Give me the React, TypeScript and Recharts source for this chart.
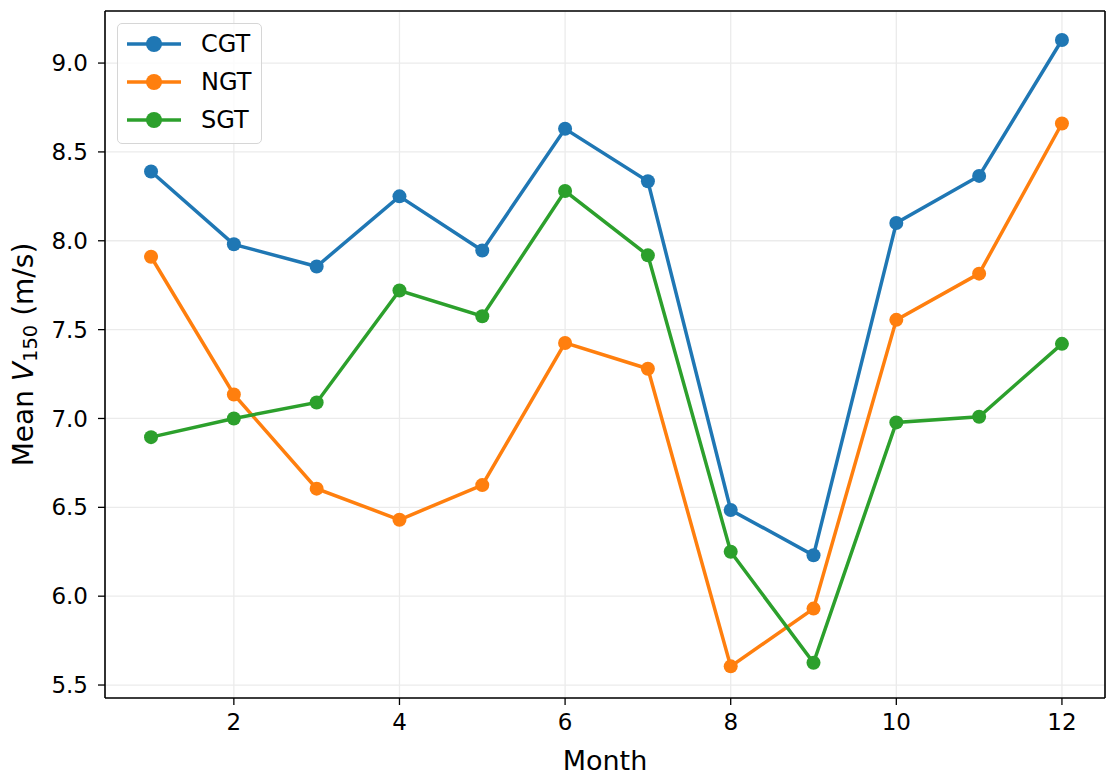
import React from 'react';
import { LineChart, Line, XAxis, YAxis, CartesianGrid, ReferenceLine } from 'recharts';

const months = [1, 2, 3, 4, 5, 6, 7, 8, 9, 10, 11, 12];
const cgt = [8.39, 7.98, 7.855, 8.25, 7.945, 8.63, 8.335, 6.485, 6.23, 8.1, 8.365, 9.13];
const ngt = [7.91, 7.135, 6.605, 6.43, 6.625, 7.425, 7.28, 5.605, 5.93, 7.555, 7.815, 8.66];
const sgt = [6.895, 7.0, 7.09, 7.72, 7.575, 8.28, 7.918, 6.25, 5.625, 6.978, 7.01, 7.42];
const xTicks = [2, 4, 6, 8, 10, 12];
const yTicks = [5.5, 6.0, 6.5, 7.0, 7.5, 8.0, 8.5, 9.0];
const xDomain = [0.444, 12.52];
const yDomain = [5.427, 9.293];

const series = [
  { key: 'CGT', values: cgt, color: '#1f77b4' },
  { key: 'NGT', values: ngt, color: '#ff7f0e' },
  { key: 'SGT', values: sgt, color: '#2ca02c' },
];

const data = months.map((m, i) => ({ month: m, CGT: cgt[i], NGT: ngt[i], SGT: sgt[i] }));

const font = 'DejaVu Sans, sans-serif';

function YLabel({ viewBox }: any) {
  const cx = 33;
  const cy = viewBox.y + viewBox.height / 2;
  return (
    <text
      x={cx}
      y={cy}
      transform={`rotate(-90, ${cx}, ${cy})`}
      textAnchor="middle"
      fontFamily={font}
      fontSize={28}
      fill="#000"
    >
      Mean <tspan fontStyle="italic">V</tspan>
      <tspan fontSize={19.5} dy={4}>150</tspan>
      <tspan dy={-4}> (m/s)</tspan>
    </text>
  );
}

function XLabel({ viewBox }: any) {
  return (
    <text
      x={viewBox.x + viewBox.width / 2}
      y={770}
      textAnchor="middle"
      fontFamily={font}
      fontSize={27}
      fill="#000"
    >
      Month
    </text>
  );
}

function LegendBox() {
  return (
    <div
      style={{
        position: 'absolute',
        left: 117,
        top: 23,
        width: 145,
        height: 121,
        boxSizing: 'border-box',
        border: '1.5px solid #d6d6d6',
        borderRadius: 5,
        background: 'rgba(255,255,255,0.8)',
        fontFamily: font,
        fontSize: 24,
        paddingTop: 1,
      }}
    >
      {series.map((s) => (
        <div key={s.key} style={{ display: 'flex', alignItems: 'center', height: 38 }}>
          <svg width={56} height={20} style={{ marginLeft: 9 }}>
            <line x1={0} y1={10} x2={54} y2={10} stroke={s.color} strokeWidth={3.5} />
            <circle cx={27} cy={10} r={8} fill={s.color} />
          </svg>
          <span style={{ marginLeft: 18 }}>{s.key}</span>
        </div>
      ))}
    </div>
  );
}

export default function App() {
  return (
    <div style={{ position: 'relative', margin: -8, width: 1118, height: 780, background: '#fff' }}>
      <LineChart
        width={1118}
        height={780}
        data={data}
        margin={{ top: 11, right: 13, bottom: 42, left: 45 }}
      >
        <CartesianGrid stroke="#ebebeb" strokeWidth={1.3} />
        <XAxis
          dataKey="month"
          type="number"
          domain={xDomain}
          ticks={xTicks}
          allowDataOverflow
          height={40}
          tickLine={{ stroke: '#000', strokeWidth: 1.3 }}
          tickSize={7}
          tickMargin={9}
          axisLine={{ stroke: '#000', strokeWidth: 1.6 }}
          tick={{ fill: '#000', fontFamily: font, fontSize: 23 }}
          label={<XLabel />}
        />
        <YAxis
          type="number"
          domain={yDomain}
          ticks={yTicks}
          allowDataOverflow
          width={60}
          tickLine={{ stroke: '#000', strokeWidth: 1.3 }}
          tickSize={7}
          tickMargin={10}
          axisLine={{ stroke: '#000', strokeWidth: 1.6 }}
          tick={{ fill: '#000', fontFamily: font, fontSize: 23 }}
          tickFormatter={(v: number) => v.toFixed(1)}
          label={<YLabel />}
        />
        <ReferenceLine y={yDomain[1]} stroke="#000" strokeWidth={1.6} />
        <ReferenceLine x={xDomain[1]} stroke="#000" strokeWidth={1.6} />
        {series.map((s) => (
          <Line
            key={s.key}
            dataKey={s.key}
            type="linear"
            stroke={s.color}
            strokeWidth={3.5}
            dot={{ r: 7, fill: s.color, stroke: s.color, strokeWidth: 0 }}
            activeDot={false}
            isAnimationActive={false}
          />
        ))}
      </LineChart>
      <LegendBox />
    </div>
  );
}
